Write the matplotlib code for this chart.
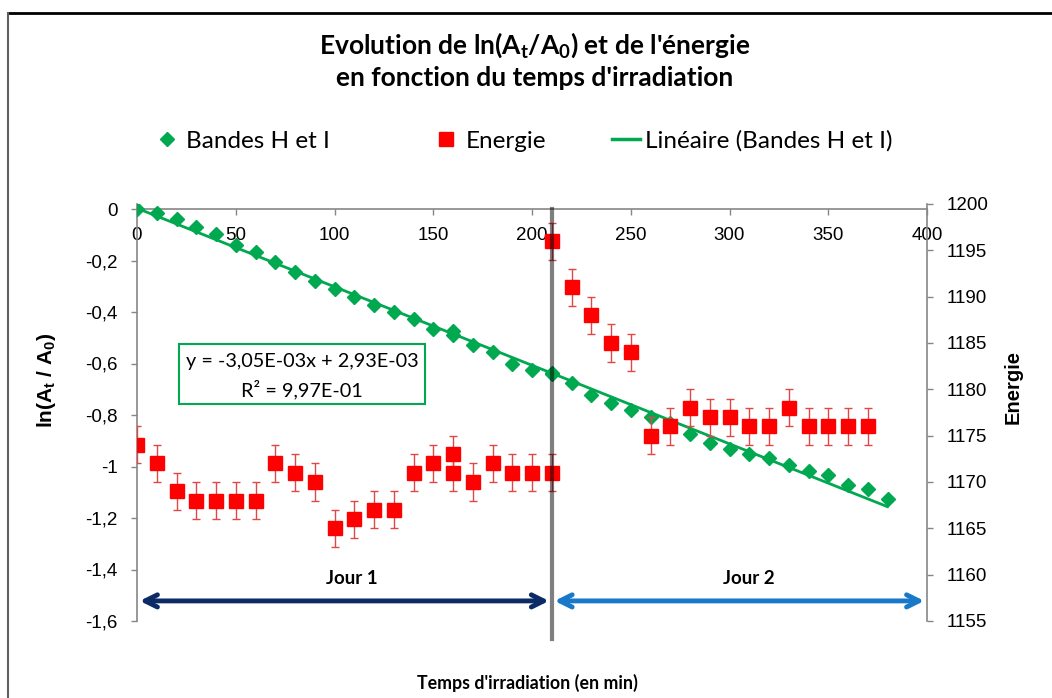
import matplotlib
matplotlib.use('Agg')
import matplotlib.pyplot as plt
from matplotlib.lines import Line2D
from matplotlib.patches import Rectangle
from matplotlib.ticker import FuncFormatter

# donnees
temps_bandes = [0, 10, 20, 30, 40, 50, 60, 70, 80, 90, 100, 110, 120, 130, 140, 150,
                160, 160, 170, 180, 190, 200, 210, 210, 220, 230, 240, 250, 260, 270,
                280, 290, 300, 310, 320, 330, 340, 350, 360, 370, 380]
ln_bandes = [0.0, -0.017, -0.040, -0.069, -0.096, -0.140, -0.167, -0.207, -0.246, -0.278,
             -0.312, -0.341, -0.373, -0.401, -0.428, -0.466, -0.475, -0.490, -0.528, -0.557,
             -0.600, -0.625, -0.636, -0.641, -0.677, -0.722, -0.752, -0.780, -0.806, -0.830,
             -0.874, -0.910, -0.931, -0.951, -0.968, -0.994, -1.019, -1.032, -1.071, -1.087,
             -1.127]

temps_energie = [0, 10, 20, 30, 40, 50, 60, 70, 80, 90, 100, 110, 120, 130, 140, 150,
                 160, 160, 170, 180, 190, 200, 210, 210, 220, 230, 240, 250, 260, 270,
                 280, 290, 300, 310, 320, 330, 340, 350, 360, 370]
energie = [1174, 1172, 1169, 1168, 1168, 1168, 1168, 1172, 1171, 1170, 1165, 1166, 1167,
           1167, 1171, 1172, 1173, 1171, 1170, 1172, 1171, 1171, 1171, 1196, 1191, 1188,
           1185, 1184, 1175, 1176, 1178, 1177, 1177, 1176, 1176, 1178, 1176, 1176, 1176,
           1176]
erreur_energie = 2

pente = -3.05e-3
ordonnee = 2.93e-3
fin_jour1 = 210
fin_jour2 = 400

vert = '#00a850'
rouge = '#ff0000'
gris = '#868686'

plt.rcParams['font.family'] = 'Liberation Sans'

fig = plt.figure(figsize=(10.52, 6.98), dpi=100)
ax = fig.add_axes([137/1052, 1-621/698, 790/1052, 417/698])
ax2 = ax.twinx()

# droite de tendance
xt = [0, 380]
ax.plot(xt, [pente*v + ordonnee for v in xt], color=vert, lw=2, zorder=2)
ax.plot(temps_bandes, ln_bandes, linestyle='none', marker='D', ms=7, color=vert,
        mec=vert, zorder=3)

ax.set_xlim(0, 400)
ax.set_ylim(-1.6, 5/257.5)
ax.set_xticks(range(0, 401, 50))
ax.set_yticks([-1.6, -1.4, -1.2, -1.0, -0.8, -0.6, -0.4, -0.2, 0.0])

def virgule(v, pos):
    return '{:g}'.format(round(v, 1) + 0.0).replace('.', ',')

ax.yaxis.set_major_formatter(FuncFormatter(virgule))
ax.spines['bottom'].set_position(('data', 0))
ax.spines['top'].set_visible(False)
ax.spines['right'].set_visible(False)
for s in ['bottom', 'left']:
    ax.spines[s].set_color(gris)
    ax.spines[s].set_linewidth(1.2)
ax.tick_params(axis='x', direction='out', length=4, width=1, color=gris,
               labelsize=13.5, pad=9)
ax.tick_params(axis='y', direction='out', length=4, width=1, color=gris,
               labelsize=13.5, pad=10)

ax2.errorbar(temps_energie, energie, yerr=erreur_energie, fmt='none', ecolor='#e04848',
             elinewidth=1, capsize=3, capthick=1, zorder=2)
ax2.plot(temps_energie, energie, linestyle='none', marker='s', ms=10, color=rouge,
         mec=rouge, zorder=3)
ax2.set_ylim(1155, 1200)
ax2.set_yticks(range(1155, 1201, 5))
for s in ['top', 'bottom', 'left']:
    ax2.spines[s].set_visible(False)
ax2.spines['right'].set_color(gris)
ax2.spines['right'].set_linewidth(1.2)
ax2.tick_params(axis='y', direction='out', length=4, width=1, color=gris,
                labelsize=13.5, pad=10)

# separation des jours
ax2.plot([fin_jour1, fin_jour1], [0.988, -0.043], transform=ax2.get_xaxis_transform(),
         color='black', alpha=0.5, lw=3, clip_on=False, zorder=5)

y_fleche = -1.522
ax.annotate('', xy=(0, y_fleche), xytext=(fin_jour1, y_fleche),
            arrowprops=dict(arrowstyle='<->', color='#0c2a66', lw=3.5, mutation_scale=22))
ax.annotate('', xy=(fin_jour1, y_fleche), xytext=(fin_jour2, y_fleche),
            arrowprops=dict(arrowstyle='<->', color='#1a78c8', lw=3.5, mutation_scale=22),
            annotation_clip=False)
ax.text(109, -1.435, 'Jour 1', ha='center', va='center', fontfamily='Lato',
        fontweight='bold', fontsize=13.5)
ax.text(310, -1.435, 'Jour 2', ha='center', va='center',
        fontfamily='Lato', fontweight='bold', fontsize=13.5)

# equation de la droite
fig.patches.append(Rectangle((179/1052, 1-404/698), 246/1052, 60/698, transform=fig.transFigure,
                             fill=True, fc='white', ec=vert, lw=1.5, zorder=4))
fig.text(302/1052, 1-362/698, 'y = -3,05E-03x + 2,93E-03', ha='center', va='center',
         fontfamily='Lato', fontsize=14.3, zorder=5)
fig.text(302/1052, 1-390/698, 'R² = 9,97E-01', ha='center', va='center',
         fontfamily='Lato', fontsize=14.3, zorder=5)

# titres
fig.text(535/1052, 1-45/698, "Evolution de ln(A$\\mathregular{_t}$/A$\\mathregular{_0}$) et de l'énergie",
         ha='center', va='center', fontfamily='Lato', fontweight='bold', fontsize=19)
fig.text(535/1052, 1-78/698, "en fonction du temps d'irradiation", ha='center', va='center',
         fontfamily='Lato', fontweight='bold', fontsize=19)
fig.text(527/1052, 1-683/698, "Temps d'irradiation (en min)", ha='center', va='center',
         fontfamily='Lato', fontweight='bold', fontsize=12.8)
fig.text(46/1052, 1-380/698, 'ln(A$\\mathregular{_t}$ / A$\\mathregular{_0}$)', rotation=90,
         ha='center', va='center', fontweight='bold', fontsize=15)
fig.text(1013/1052, 1-387/698, 'Energie', rotation=90, ha='center', va='center',
         fontweight='bold', fontsize=14.5)

# legende : une entree par legende pour les placer comme dans l'original
entrees = [(Line2D([], [], linestyle='none', marker='D', ms=7, color=vert), 'Bandes H et I', 153),
           (Line2D([], [], linestyle='none', marker='s', ms=10, color=rouge), 'Energie', 432),
           (Line2D([], [], color=vert, lw=2.5), 'Linéaire (Bandes H et I)', 612)]
for poignee, texte, x0 in entrees:
    fig.legend([poignee], [texte], loc='center left', bbox_to_anchor=(x0/1052, 1-141/698),
               frameon=False, prop={'family': 'Lato', 'size': 17.5}, handlelength=1.15,
               handletextpad=0.22, borderpad=0, borderaxespad=0)

# cadre
fig.add_artist(Line2D([8/1052, 1], [1-13/698, 1-13/698], color='black', lw=2))
fig.add_artist(Line2D([8/1052, 8/1052], [0, 1-13/698], color='#606060', lw=1.5))

fig.savefig('out.png', dpi=100)
